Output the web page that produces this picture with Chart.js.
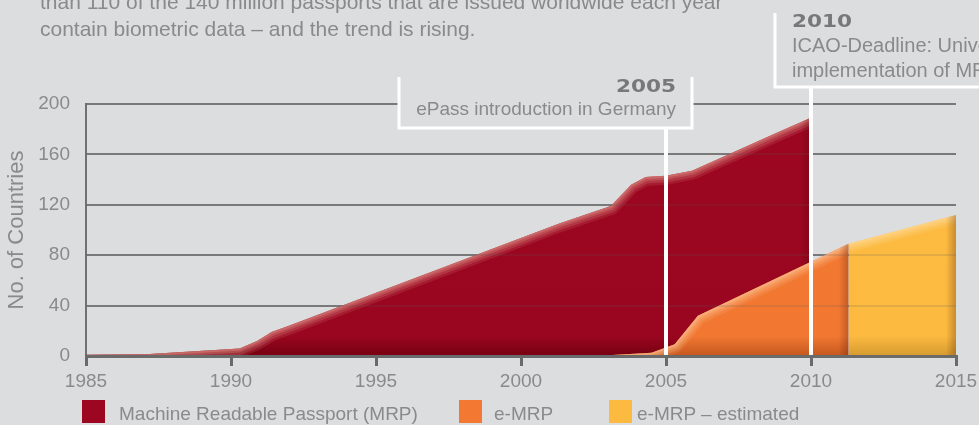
<!DOCTYPE html>
<html><head><meta charset="utf-8">
<script src="https://cdn.jsdelivr.net/npm/chart.js@4"></script>
<style>
html,body{margin:0;padding:0;background:#DCDDDF;overflow:hidden}
#wrap{position:relative;width:979px;height:425px;overflow:hidden;font-family:"Liberation Sans",Arial,sans-serif;color:#8a8a8a;background:#DCDDDF}
#c{position:absolute;left:0;top:0}
.intro{position:absolute;left:40px;top:-12px;font-size:21px;line-height:27px;white-space:nowrap}
.lg{position:absolute;top:400px;height:23px;width:23px}
.lt{position:absolute;top:404px;font-size:19px;line-height:20px;white-space:nowrap}
</style></head>
<body>
<div id="wrap">
<canvas id="c" width="979" height="425"></canvas>
<div class="intro">than 110 of the 140 million passports that are issued worldwide each year<br>contain biometric data – and the trend is rising.</div>
<div id="legend"></div>
</div>
<script>
// ---- data ----
const mrpYears      = [1985, 1987.2, 1990.3, 1990.9, 1991.4, 1992, 2001.3, 2003.1, 2003.8, 2004.3, 2005, 2005.9, 2008.9, 2010];
const mrpCountries  = [1, 1.5, 6, 12, 19, 24, 105, 119, 136, 142, 143, 147, 178, 189];
const emrpYears     = [2003, 2004.5, 2005.3, 2006.1, 2011.3];
const emrpCountries = [0.5, 2.6, 9.4, 32, 89];
const estYears      = [2011.3, 2015];
const estCountries  = [89, 112];
const xTickYears    = [1985, 1990, 1995, 2000, 2005, 2010, 2015];
const yTickValues   = [0, 40, 80, 120, 160, 200];
const seriesNames   = ['Machine Readable Passport (MRP)', 'e-MRP', 'e-MRP – estimated'];
const yAxisTitle    = 'No. of Countries';
const eventYears    = [2005, 2010];
const eventTitles   = ['2005', '2010'];
const eventTexts    = [['ePass introduction in Germany'], ['ICAO-Deadline: Universal', 'implementation of MRPs']];

const toPts = (xs, ys) => xs.map((x, i) => ({x, y: ys[i]}));
const FONT = '"Liberation Sans", Arial, sans-serif';
const BG = '#DCDDDF';
const TXT = '#8a8a8a';
const colors = ['#9C0620', '#F37933', '#FCBA40'];
const edgeLight = ['rgba(214,130,122,', 'rgba(250,185,135,', 'rgba(254,216,145,'];

function vGrad(chart, top, mid, bottom) {
  const {ctx, chartArea} = chart;
  if (!chartArea) return mid;
  const g = ctx.createLinearGradient(0, chartArea.top, 0, chartArea.bottom);
  g.addColorStop(0, top);
  g.addColorStop(0.92, mid);
  g.addColorStop(1, bottom);
  return g;
}

// legend (HTML)
const legendPos = [[82, 119], [459, 494], [609, 637]];
const lg = document.getElementById('legend');
seriesNames.forEach((n, i) => {
  const b = document.createElement('div'); b.className = 'lg';
  b.style.left = legendPos[i][0] + 'px'; b.style.background = colors[i];
  const t = document.createElement('div'); t.className = 'lt';
  t.style.left = legendPos[i][1] + 'px'; t.textContent = n;
  lg.appendChild(b); lg.appendChild(t);
});

// soft edges on each area, using the points the library computed
const edges = {
  id: 'edges',
  afterDatasetDraw(chart, args) {
    const meta = args.meta;
    const pts = meta.data;
    if (!pts.length) return;
    const {ctx, scales: {y}} = chart;
    const base = y.getPixelForValue(0);
    const idx = args.index;
    const ci = idx === 0 ? 2 : idx === 1 ? 1 : 0;
    ctx.save();
    ctx.beginPath();
    ctx.moveTo(pts[0].x, base);
    pts.forEach(p => ctx.lineTo(p.x, p.y));
    ctx.lineTo(pts[pts.length - 1].x, base);
    ctx.closePath();
    ctx.clip();
    const top = () => { ctx.beginPath(); pts.forEach((p, i) => i ? ctx.lineTo(p.x, p.y) : ctx.moveTo(p.x, p.y)); };
    ctx.lineJoin = 'round';
    [[18, 0.18], [13, 0.25], [8, 0.35], [4, 0.5]].forEach(([w, a]) => {
      top(); ctx.lineWidth = w; ctx.strokeStyle = edgeLight[ci] + a + ')'; ctx.stroke();
    });
    const lx = pts[pts.length - 1].x;
    const g = ctx.createLinearGradient(lx - 10, 0, lx, 0);
    g.addColorStop(0, 'rgba(60,0,0,0)');
    g.addColorStop(1, 'rgba(60,20,0,0.28)');
    ctx.fillStyle = g;
    ctx.fillRect(lx - 10, chart.chartArea.top, 10, base - chart.chartArea.top);
    ctx.restore();
  }
};

const annot = {
  id: 'annot',
  afterDatasetsDraw(chart) {
    const {ctx, chartArea: ca, scales: {x, y}} = chart;
    ctx.save();
    ctx.strokeStyle = 'rgba(90,90,90,0.16)';
    ctx.lineWidth = 2;
    yTickValues.slice(1).forEach(v => {
      const py = Math.round(y.getPixelForValue(v));
      ctx.beginPath(); ctx.moveTo(ca.left, py); ctx.lineTo(ca.right, py); ctx.stroke();
    });
    // 2005 box
    const x5 = Math.round(x.getPixelForValue(eventYears[0]));
    const l5 = x5 - 267, r5 = x5 + 26, t5 = 77, b5 = 128;
    ctx.fillStyle = BG;
    ctx.fillRect(l5, t5 - 2, r5 - l5, b5 - t5 + 2);
    ctx.strokeStyle = '#ffffff';
    ctx.lineWidth = 3;
    ctx.beginPath(); ctx.moveTo(l5, t5); ctx.lineTo(l5, b5); ctx.lineTo(r5, b5); ctx.lineTo(r5, t5); ctx.stroke();
    ctx.lineWidth = 4;
    ctx.beginPath(); ctx.moveTo(x5, b5); ctx.lineTo(x5, ca.bottom); ctx.stroke();
    // 2010 box
    const x10 = Math.round(x.getPixelForValue(eventYears[1]));
    const l10 = x10 - 36, t10 = 13, b10 = 87;
    ctx.lineWidth = 3;
    ctx.beginPath(); ctx.moveTo(l10, t10); ctx.lineTo(l10, b10); ctx.lineTo(chart.width + 5, b10); ctx.stroke();
    ctx.lineWidth = 4;
    ctx.beginPath(); ctx.moveTo(x10, b10); ctx.lineTo(x10, ca.bottom); ctx.stroke();
    // texts
    ctx.textBaseline = 'alphabetic';
    ctx.save();
    ctx.font = 'bold 18px "DejaVu Sans", sans-serif';
    ctx.fillStyle = '#787878';
    ctx.textAlign = 'right';
    ctx.translate(x5 + 10, 92); ctx.scale(1.2, 1);
    ctx.fillText(eventTitles[0], 0, 0);
    ctx.restore();
    ctx.font = '19px ' + FONT;
    ctx.fillStyle = TXT;
    ctx.textAlign = 'right';
    ctx.fillText(eventTexts[0][0], x5 + 10, 115);
    ctx.save();
    ctx.font = 'bold 18px "DejaVu Sans", sans-serif';
    ctx.fillStyle = '#787878';
    ctx.textAlign = 'left';
    ctx.translate(x10 - 19, 27); ctx.scale(1.2, 1);
    ctx.fillText(eventTitles[1], 0, 0);
    ctx.restore();
    ctx.font = '20px ' + FONT;
    ctx.fillStyle = TXT;
    ctx.textAlign = 'left';
    eventTexts[1].forEach((t, i) => ctx.fillText(t, x10 - 19, 52 + i * 25));
    ctx.restore();
  }
};

new Chart(document.getElementById('c'), {
  type: 'line',
  data: {
    datasets: [
      {
        label: seriesNames[2], data: toPts(estYears, estCountries), order: 1,
        fill: 'origin', tension: 0, pointRadius: 0, borderWidth: 0, borderColor: 'rgba(0,0,0,0)',
        backgroundColor: c => vGrad(c.chart, '#FCBB42', '#FCBA40', '#D59A30')
      },
      {
        label: seriesNames[1], data: toPts(emrpYears, emrpCountries), order: 2,
        fill: 'origin', tension: 0, pointRadius: 0, borderWidth: 0, borderColor: 'rgba(0,0,0,0)',
        backgroundColor: c => vGrad(c.chart, '#F37A33', '#F27832', '#C5571E')
      },
      {
        label: seriesNames[0], data: toPts(mrpYears, mrpCountries), order: 3,
        fill: 'origin', tension: 0, pointRadius: 0, borderWidth: 0, borderColor: 'rgba(0,0,0,0)',
        backgroundColor: c => vGrad(c.chart, '#9C0620', '#9A0620', '#760011')
      }
    ]
  },
  options: {
    responsive: false,
    animation: false,
    devicePixelRatio: 1,
    layout: {padding: {left: 0, right: 23, top: 104, bottom: 0}},
    plugins: {legend: {display: false}, tooltip: {enabled: false}},
    scales: {
      x: {
        type: 'linear', min: 1985, max: 2015,
        afterBuildTicks: s => { s.ticks = xTickYears.map(v => ({value: v})); },
        afterFit: s => { s.height = 69; s.paddingLeft = 0; s.paddingRight = 0; },
        ticks: {color: TXT, font: {family: FONT, size: 19}, padding: 4, maxRotation: 0,
                callback: v => String(v)},
        grid: {drawOnChartArea: false, drawTicks: true, tickLength: 10, color: '#6a6a6a', lineWidth: 3, z: 1},
        border: {display: true, color: '#6a6a6a', width: 3, z: 1}
      },
      y: {
        min: 0, max: 200,
        afterBuildTicks: s => { s.ticks = yTickValues.map(v => ({value: v})); },
        afterFit: s => { s.width = 86; s.paddingTop = 0; s.paddingBottom = 0; },
        ticks: {color: TXT, font: {family: FONT, size: 19}, padding: 16},
        grid: {color: '#808080', lineWidth: 2, drawTicks: false},
        border: {display: true, color: '#707070', width: 2},
        title: {display: true, text: yAxisTitle, color: TXT, font: {family: FONT, size: 22}, padding: {top: 4, bottom: 0}}
      }
    }
  },
  plugins: [edges, annot]
});
</script>
</body></html>
